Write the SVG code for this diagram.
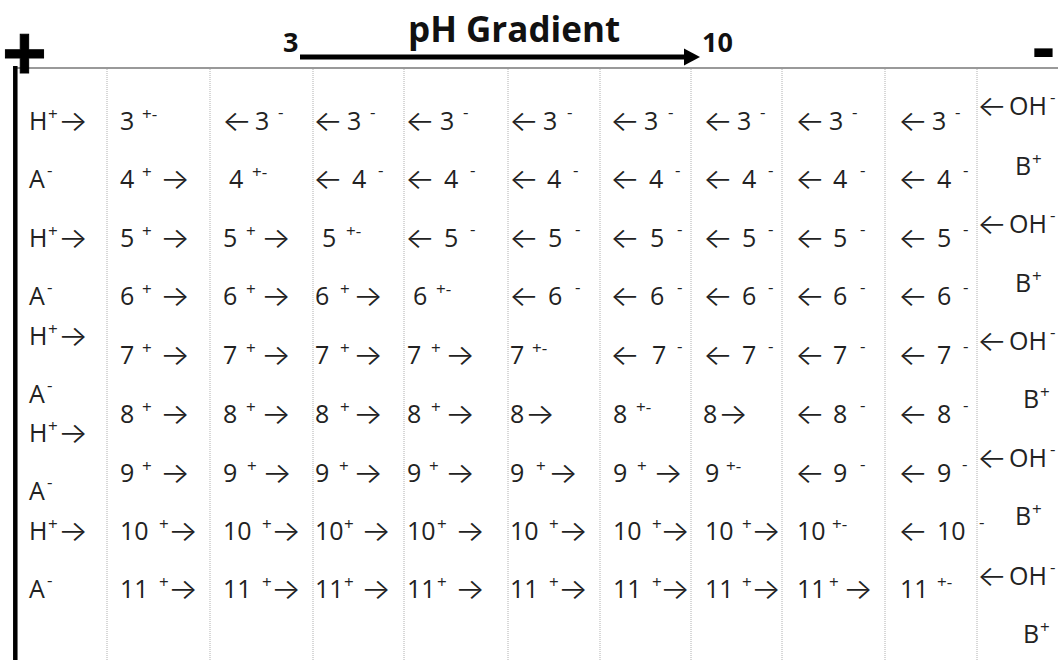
<svg xmlns="http://www.w3.org/2000/svg" width="1058" height="660" viewBox="0 0 1058 660">
<style>
.t{font-family:"Open Sans","Liberation Sans",sans-serif;font-size:25px;fill:#222}
.s{font-size:17px}
.a{font-family:Inter,"DejaVu Sans",sans-serif;font-size:29px;font-weight:300;baseline-shift:-1px}
.hd{font-family:"Open Sans","Liberation Sans",sans-serif;font-weight:bold;fill:#111}
.grid line{stroke:#b0b0b0;stroke-width:1;stroke-dasharray:1 1}
</style>
<rect width="1058" height="660" fill="#fff"/>
<g id="frame">
<line x1="13" y1="68" x2="1058" y2="68" stroke="#777" stroke-width="1.5"/>
<line x1="15.3" y1="66" x2="15.3" y2="660" stroke="#000" stroke-width="4.5"/>
<g class="grid">
<line x1="107" y1="69" x2="107" y2="660"/><line x1="210" y1="69" x2="210" y2="660"/><line x1="313" y1="69" x2="313" y2="660"/><line x1="404" y1="69" x2="404" y2="660"/><line x1="508" y1="69" x2="508" y2="660"/><line x1="600" y1="69" x2="600" y2="660"/><line x1="691" y1="69" x2="691" y2="660"/><line x1="782" y1="69" x2="782" y2="660"/><line x1="885" y1="69" x2="885" y2="660"/><line x1="977" y1="69" x2="977" y2="660"/>
</g>
</g>
<g id="anode"><text x="24.5" y="79" font-family="Liberation Sans" font-size="76" text-anchor="middle" font-weight="bold" fill="#000" stroke="#000" stroke-width="1">+</text></g>
<g id="cathode"><text x="1043.5" y="71" font-family="Liberation Sans" font-size="72" text-anchor="middle" font-weight="bold" fill="#000">-</text></g>
<g id="title"><text class="hd" x="408" y="42" font-size="35">pH Gradient</text></g>
<g id="ph-start"><text class="hd" x="283" y="52" font-size="27">3</text></g>
<g id="ph-end"><text class="hd" x="702" y="52" font-size="27">10</text></g>
<g id="connectors">
<line x1="300" y1="57" x2="688" y2="57" stroke="#000" stroke-width="5"/>
<polygon points="684,48.5 700,57 684,65.5" fill="#000"/>
</g>
<g id="left-col">
<text class="t" y="130"><tspan x="29">H</tspan><tspan class="s" x="48" y="120">+</tspan><tspan class="a" x="58" y="130" textLength="30" lengthAdjust="spacingAndGlyphs">→</tspan></text>
<text class="t" y="188"><tspan x="29">A</tspan><tspan class="s" x="47" y="176">-</tspan></text>
<text class="t" y="247"><tspan x="29">H</tspan><tspan class="s" x="48" y="237">+</tspan><tspan class="a" x="58" y="247" textLength="30" lengthAdjust="spacingAndGlyphs">→</tspan></text>
<text class="t" y="305"><tspan x="29">A</tspan><tspan class="s" x="47" y="293">-</tspan></text>
<text class="t" y="345"><tspan x="29">H</tspan><tspan class="s" x="48" y="335">+</tspan><tspan class="a" x="58" y="345" textLength="30" lengthAdjust="spacingAndGlyphs">→</tspan></text>
<text class="t" y="403"><tspan x="29">A</tspan><tspan class="s" x="47" y="391">-</tspan></text>
<text class="t" y="442"><tspan x="29">H</tspan><tspan class="s" x="48" y="432">+</tspan><tspan class="a" x="58" y="442" textLength="30" lengthAdjust="spacingAndGlyphs">→</tspan></text>
<text class="t" y="500"><tspan x="29">A</tspan><tspan class="s" x="47" y="488">-</tspan></text>
<text class="t" y="540"><tspan x="29">H</tspan><tspan class="s" x="48" y="530">+</tspan><tspan class="a" x="58" y="540" textLength="30" lengthAdjust="spacingAndGlyphs">→</tspan></text>
<text class="t" y="598"><tspan x="29">A</tspan><tspan class="s" x="47" y="586">-</tspan></text>
</g>
<g id="right-col">
<text class="t" y="115"><tspan class="a" x="977" textLength="30" lengthAdjust="spacingAndGlyphs">←</tspan><tspan x="1009">OH</tspan><tspan class="s" x="1050" y="103">-</tspan></text>
<text class="t" y="175"><tspan x="1015">B</tspan><tspan class="s" x="1032" y="165">+</tspan></text>
<text class="t" y="233"><tspan class="a" x="977" textLength="30" lengthAdjust="spacingAndGlyphs">←</tspan><tspan x="1009">OH</tspan><tspan class="s" x="1050" y="221">-</tspan></text>
<text class="t" y="292"><tspan x="1015">B</tspan><tspan class="s" x="1032" y="282">+</tspan></text>
<text class="t" y="350"><tspan class="a" x="977" textLength="30" lengthAdjust="spacingAndGlyphs">←</tspan><tspan x="1009">OH</tspan><tspan class="s" x="1050" y="338">-</tspan></text>
<text class="t" y="408"><tspan x="1023">B</tspan><tspan class="s" x="1040" y="398">+</tspan></text>
<text class="t" y="467"><tspan class="a" x="977" textLength="30" lengthAdjust="spacingAndGlyphs">←</tspan><tspan x="1009">OH</tspan><tspan class="s" x="1050" y="455">-</tspan></text>
<text class="t" y="525"><tspan x="1015">B</tspan><tspan class="s" x="1032" y="515">+</tspan></text>
<text class="t" y="585"><tspan class="a" x="977" textLength="30" lengthAdjust="spacingAndGlyphs">←</tspan><tspan x="1009">OH</tspan><tspan class="s" x="1050" y="573">-</tspan></text>
<text class="t" y="643"><tspan x="1023">B</tspan><tspan class="s" x="1040" y="633">+</tspan></text>
</g>
<g id="row-3">
<text class="t" y="130"><tspan x="120">3</tspan><tspan class="s" x="142" y="120">+-</tspan></text>
<text class="t" y="130"><tspan class="a" x="222" textLength="30" lengthAdjust="spacingAndGlyphs">←</tspan><tspan x="255">3</tspan><tspan class="s" x="278" y="118">-</tspan></text>
<text class="t" y="130"><tspan class="a" x="313" textLength="30" lengthAdjust="spacingAndGlyphs">←</tspan><tspan x="347">3</tspan><tspan class="s" x="370" y="118">-</tspan></text>
<text class="t" y="130"><tspan class="a" x="405" textLength="30" lengthAdjust="spacingAndGlyphs">←</tspan><tspan x="440">3</tspan><tspan class="s" x="463" y="118">-</tspan></text>
<text class="t" y="130"><tspan class="a" x="509" textLength="30" lengthAdjust="spacingAndGlyphs">←</tspan><tspan x="543">3</tspan><tspan class="s" x="567" y="118">-</tspan></text>
<text class="t" y="130"><tspan class="a" x="610" textLength="30" lengthAdjust="spacingAndGlyphs">←</tspan><tspan x="644">3</tspan><tspan class="s" x="668" y="118">-</tspan></text>
<text class="t" y="130"><tspan class="a" x="703" textLength="30" lengthAdjust="spacingAndGlyphs">←</tspan><tspan x="737">3</tspan><tspan class="s" x="760" y="118">-</tspan></text>
<text class="t" y="130"><tspan class="a" x="795" textLength="30" lengthAdjust="spacingAndGlyphs">←</tspan><tspan x="829">3</tspan><tspan class="s" x="852" y="118">-</tspan></text>
<text class="t" y="130"><tspan class="a" x="898" textLength="30" lengthAdjust="spacingAndGlyphs">←</tspan><tspan x="932">3</tspan><tspan class="s" x="955" y="118">-</tspan></text>
</g>
<g id="row-4">
<text class="t" y="188"><tspan x="120">4</tspan><tspan class="s" x="142" y="178">+</tspan><tspan class="a" x="160" y="188" textLength="30" lengthAdjust="spacingAndGlyphs">→</tspan></text>
<text class="t" y="188"><tspan x="229">4</tspan><tspan class="s" x="252" y="178">+-</tspan></text>
<text class="t" y="188"><tspan class="a" x="313" textLength="30" lengthAdjust="spacingAndGlyphs">←</tspan><tspan x="352">4</tspan><tspan class="s" x="378" y="176">-</tspan></text>
<text class="t" y="188"><tspan class="a" x="405" textLength="30" lengthAdjust="spacingAndGlyphs">←</tspan><tspan x="444">4</tspan><tspan class="s" x="470" y="176">-</tspan></text>
<text class="t" y="188"><tspan class="a" x="509" textLength="30" lengthAdjust="spacingAndGlyphs">←</tspan><tspan x="547">4</tspan><tspan class="s" x="573" y="176">-</tspan></text>
<text class="t" y="188"><tspan class="a" x="610" textLength="30" lengthAdjust="spacingAndGlyphs">←</tspan><tspan x="649">4</tspan><tspan class="s" x="675" y="176">-</tspan></text>
<text class="t" y="188"><tspan class="a" x="703" textLength="30" lengthAdjust="spacingAndGlyphs">←</tspan><tspan x="742">4</tspan><tspan class="s" x="768" y="176">-</tspan></text>
<text class="t" y="188"><tspan class="a" x="795" textLength="30" lengthAdjust="spacingAndGlyphs">←</tspan><tspan x="833">4</tspan><tspan class="s" x="860" y="176">-</tspan></text>
<text class="t" y="188"><tspan class="a" x="898" textLength="30" lengthAdjust="spacingAndGlyphs">←</tspan><tspan x="937">4</tspan><tspan class="s" x="963" y="176">-</tspan></text>
</g>
<g id="row-5">
<text class="t" y="247"><tspan x="120">5</tspan><tspan class="s" x="142" y="237">+</tspan><tspan class="a" x="160" y="247" textLength="30" lengthAdjust="spacingAndGlyphs">→</tspan></text>
<text class="t" y="247"><tspan x="223">5</tspan><tspan class="s" x="246" y="237">+</tspan><tspan class="a" x="261" y="247" textLength="30" lengthAdjust="spacingAndGlyphs">→</tspan></text>
<text class="t" y="247"><tspan x="322">5</tspan><tspan class="s" x="346" y="237">+-</tspan></text>
<text class="t" y="247"><tspan class="a" x="405" textLength="30" lengthAdjust="spacingAndGlyphs">←</tspan><tspan x="444">5</tspan><tspan class="s" x="470" y="235">-</tspan></text>
<text class="t" y="247"><tspan class="a" x="509" textLength="30" lengthAdjust="spacingAndGlyphs">←</tspan><tspan x="548">5</tspan><tspan class="s" x="575" y="235">-</tspan></text>
<text class="t" y="247"><tspan class="a" x="610" textLength="30" lengthAdjust="spacingAndGlyphs">←</tspan><tspan x="650">5</tspan><tspan class="s" x="677" y="235">-</tspan></text>
<text class="t" y="247"><tspan class="a" x="703" textLength="30" lengthAdjust="spacingAndGlyphs">←</tspan><tspan x="742">5</tspan><tspan class="s" x="768" y="235">-</tspan></text>
<text class="t" y="247"><tspan class="a" x="795" textLength="30" lengthAdjust="spacingAndGlyphs">←</tspan><tspan x="833">5</tspan><tspan class="s" x="860" y="235">-</tspan></text>
<text class="t" y="247"><tspan class="a" x="898" textLength="30" lengthAdjust="spacingAndGlyphs">←</tspan><tspan x="937">5</tspan><tspan class="s" x="963" y="235">-</tspan></text>
</g>
<g id="row-6">
<text class="t" y="305"><tspan x="120">6</tspan><tspan class="s" x="142" y="295">+</tspan><tspan class="a" x="160" y="305" textLength="30" lengthAdjust="spacingAndGlyphs">→</tspan></text>
<text class="t" y="305"><tspan x="223">6</tspan><tspan class="s" x="246" y="295">+</tspan><tspan class="a" x="261" y="305" textLength="30" lengthAdjust="spacingAndGlyphs">→</tspan></text>
<text class="t" y="305"><tspan x="315">6</tspan><tspan class="s" x="340" y="295">+</tspan><tspan class="a" x="353" y="305" textLength="30" lengthAdjust="spacingAndGlyphs">→</tspan></text>
<text class="t" y="305"><tspan x="413">6</tspan><tspan class="s" x="436" y="295">+-</tspan></text>
<text class="t" y="305"><tspan class="a" x="509" textLength="30" lengthAdjust="spacingAndGlyphs">←</tspan><tspan x="548">6</tspan><tspan class="s" x="575" y="293">-</tspan></text>
<text class="t" y="305"><tspan class="a" x="610" textLength="30" lengthAdjust="spacingAndGlyphs">←</tspan><tspan x="650">6</tspan><tspan class="s" x="677" y="293">-</tspan></text>
<text class="t" y="305"><tspan class="a" x="703" textLength="30" lengthAdjust="spacingAndGlyphs">←</tspan><tspan x="742">6</tspan><tspan class="s" x="768" y="293">-</tspan></text>
<text class="t" y="305"><tspan class="a" x="795" textLength="30" lengthAdjust="spacingAndGlyphs">←</tspan><tspan x="833">6</tspan><tspan class="s" x="860" y="293">-</tspan></text>
<text class="t" y="305"><tspan class="a" x="898" textLength="30" lengthAdjust="spacingAndGlyphs">←</tspan><tspan x="937">6</tspan><tspan class="s" x="963" y="293">-</tspan></text>
</g>
<g id="row-7">
<text class="t" y="364"><tspan x="120">7</tspan><tspan class="s" x="142" y="354">+</tspan><tspan class="a" x="160" y="364" textLength="30" lengthAdjust="spacingAndGlyphs">→</tspan></text>
<text class="t" y="364"><tspan x="223">7</tspan><tspan class="s" x="246" y="354">+</tspan><tspan class="a" x="261" y="364" textLength="30" lengthAdjust="spacingAndGlyphs">→</tspan></text>
<text class="t" y="364"><tspan x="315">7</tspan><tspan class="s" x="340" y="354">+</tspan><tspan class="a" x="353" y="364" textLength="30" lengthAdjust="spacingAndGlyphs">→</tspan></text>
<text class="t" y="364"><tspan x="407">7</tspan><tspan class="s" x="431" y="354">+</tspan><tspan class="a" x="445" y="364" textLength="30" lengthAdjust="spacingAndGlyphs">→</tspan></text>
<text class="t" y="364"><tspan x="510">7</tspan><tspan class="s" x="532" y="354">+-</tspan></text>
<text class="t" y="364"><tspan class="a" x="610" textLength="30" lengthAdjust="spacingAndGlyphs">←</tspan><tspan x="652">7</tspan><tspan class="s" x="677" y="352">-</tspan></text>
<text class="t" y="364"><tspan class="a" x="703" textLength="30" lengthAdjust="spacingAndGlyphs">←</tspan><tspan x="742">7</tspan><tspan class="s" x="768" y="352">-</tspan></text>
<text class="t" y="364"><tspan class="a" x="795" textLength="30" lengthAdjust="spacingAndGlyphs">←</tspan><tspan x="833">7</tspan><tspan class="s" x="860" y="352">-</tspan></text>
<text class="t" y="364"><tspan class="a" x="898" textLength="30" lengthAdjust="spacingAndGlyphs">←</tspan><tspan x="937">7</tspan><tspan class="s" x="963" y="352">-</tspan></text>
</g>
<g id="row-8">
<text class="t" y="423"><tspan x="120">8</tspan><tspan class="s" x="142" y="413">+</tspan><tspan class="a" x="160" y="423" textLength="30" lengthAdjust="spacingAndGlyphs">→</tspan></text>
<text class="t" y="423"><tspan x="223">8</tspan><tspan class="s" x="246" y="413">+</tspan><tspan class="a" x="261" y="423" textLength="30" lengthAdjust="spacingAndGlyphs">→</tspan></text>
<text class="t" y="423"><tspan x="315">8</tspan><tspan class="s" x="340" y="413">+</tspan><tspan class="a" x="353" y="423" textLength="30" lengthAdjust="spacingAndGlyphs">→</tspan></text>
<text class="t" y="423"><tspan x="407">8</tspan><tspan class="s" x="431" y="413">+</tspan><tspan class="a" x="445" y="423" textLength="30" lengthAdjust="spacingAndGlyphs">→</tspan></text>
<text class="t" y="423"><tspan x="510">8</tspan><tspan class="a" x="525" y="423" textLength="30" lengthAdjust="spacingAndGlyphs">→</tspan></text>
<text class="t" y="423"><tspan x="613">8</tspan><tspan class="s" x="636" y="413">+-</tspan></text>
<text class="t" y="423"><tspan x="703">8</tspan><tspan class="a" x="718" y="423" textLength="30" lengthAdjust="spacingAndGlyphs">→</tspan></text>
<text class="t" y="423"><tspan class="a" x="795" textLength="30" lengthAdjust="spacingAndGlyphs">←</tspan><tspan x="833">8</tspan><tspan class="s" x="860" y="411">-</tspan></text>
<text class="t" y="423"><tspan class="a" x="898" textLength="30" lengthAdjust="spacingAndGlyphs">←</tspan><tspan x="937">8</tspan><tspan class="s" x="963" y="411">-</tspan></text>
</g>
<g id="row-9">
<text class="t" y="482"><tspan x="120">9</tspan><tspan class="s" x="142" y="472">+</tspan><tspan class="a" x="160" y="482" textLength="30" lengthAdjust="spacingAndGlyphs">→</tspan></text>
<text class="t" y="482"><tspan x="223">9</tspan><tspan class="s" x="247" y="472">+</tspan><tspan class="a" x="262" y="482" textLength="30" lengthAdjust="spacingAndGlyphs">→</tspan></text>
<text class="t" y="482"><tspan x="315">9</tspan><tspan class="s" x="339" y="472">+</tspan><tspan class="a" x="353" y="482" textLength="30" lengthAdjust="spacingAndGlyphs">→</tspan></text>
<text class="t" y="482"><tspan x="407">9</tspan><tspan class="s" x="429" y="472">+</tspan><tspan class="a" x="445" y="482" textLength="30" lengthAdjust="spacingAndGlyphs">→</tspan></text>
<text class="t" y="482"><tspan x="510">9</tspan><tspan class="s" x="536" y="472">+</tspan><tspan class="a" x="548" y="482" textLength="30" lengthAdjust="spacingAndGlyphs">→</tspan></text>
<text class="t" y="482"><tspan x="613">9</tspan><tspan class="s" x="637" y="472">+</tspan><tspan class="a" x="653" y="482" textLength="30" lengthAdjust="spacingAndGlyphs">→</tspan></text>
<text class="t" y="482"><tspan x="705">9</tspan><tspan class="s" x="726" y="472">+-</tspan></text>
<text class="t" y="482"><tspan class="a" x="795" textLength="30" lengthAdjust="spacingAndGlyphs">←</tspan><tspan x="833">9</tspan><tspan class="s" x="860" y="470">-</tspan></text>
<text class="t" y="482"><tspan class="a" x="898" textLength="30" lengthAdjust="spacingAndGlyphs">←</tspan><tspan x="937">9</tspan><tspan class="s" x="962" y="470">-</tspan></text>
</g>
<g id="row-10">
<text class="t" y="540"><tspan x="120">10</tspan><tspan class="s" x="159" y="530">+</tspan><tspan class="a" x="168" y="540" textLength="30" lengthAdjust="spacingAndGlyphs">→</tspan></text>
<text class="t" y="540"><tspan x="223">10</tspan><tspan class="s" x="262" y="530">+</tspan><tspan class="a" x="271" y="540" textLength="30" lengthAdjust="spacingAndGlyphs">→</tspan></text>
<text class="t" y="540"><tspan x="315">10</tspan><tspan class="s" x="344" y="530">+</tspan><tspan class="a" x="361" y="540" textLength="30" lengthAdjust="spacingAndGlyphs">→</tspan></text>
<text class="t" y="540"><tspan x="407">10</tspan><tspan class="s" x="437" y="530">+</tspan><tspan class="a" x="455" y="540" textLength="30" lengthAdjust="spacingAndGlyphs">→</tspan></text>
<text class="t" y="540"><tspan x="510">10</tspan><tspan class="s" x="549" y="530">+</tspan><tspan class="a" x="558" y="540" textLength="30" lengthAdjust="spacingAndGlyphs">→</tspan></text>
<text class="t" y="540"><tspan x="613">10</tspan><tspan class="s" x="652" y="530">+</tspan><tspan class="a" x="660" y="540" textLength="30" lengthAdjust="spacingAndGlyphs">→</tspan></text>
<text class="t" y="540"><tspan x="705">10</tspan><tspan class="s" x="742" y="530">+</tspan><tspan class="a" x="751" y="540" textLength="30" lengthAdjust="spacingAndGlyphs">→</tspan></text>
<text class="t" y="540"><tspan x="797">10</tspan><tspan class="s" x="832" y="530">+-</tspan></text>
<text class="t" y="540"><tspan class="a" x="898" textLength="30" lengthAdjust="spacingAndGlyphs">←</tspan><tspan x="937">10</tspan><tspan class="s" x="979" y="528">-</tspan></text>
</g>
<g id="row-11">
<text class="t" y="598"><tspan x="120">11</tspan><tspan class="s" x="159" y="588">+</tspan><tspan class="a" x="168" y="598" textLength="30" lengthAdjust="spacingAndGlyphs">→</tspan></text>
<text class="t" y="598"><tspan x="223">11</tspan><tspan class="s" x="262" y="588">+</tspan><tspan class="a" x="271" y="598" textLength="30" lengthAdjust="spacingAndGlyphs">→</tspan></text>
<text class="t" y="598"><tspan x="315">11</tspan><tspan class="s" x="344" y="588">+</tspan><tspan class="a" x="361" y="598" textLength="30" lengthAdjust="spacingAndGlyphs">→</tspan></text>
<text class="t" y="598"><tspan x="407">11</tspan><tspan class="s" x="437" y="588">+</tspan><tspan class="a" x="455" y="598" textLength="30" lengthAdjust="spacingAndGlyphs">→</tspan></text>
<text class="t" y="598"><tspan x="510">11</tspan><tspan class="s" x="549" y="588">+</tspan><tspan class="a" x="558" y="598" textLength="30" lengthAdjust="spacingAndGlyphs">→</tspan></text>
<text class="t" y="598"><tspan x="613">11</tspan><tspan class="s" x="652" y="588">+</tspan><tspan class="a" x="660" y="598" textLength="30" lengthAdjust="spacingAndGlyphs">→</tspan></text>
<text class="t" y="598"><tspan x="705">11</tspan><tspan class="s" x="742" y="588">+</tspan><tspan class="a" x="751" y="598" textLength="30" lengthAdjust="spacingAndGlyphs">→</tspan></text>
<text class="t" y="598"><tspan x="797">11</tspan><tspan class="s" x="829" y="588">+</tspan><tspan class="a" x="843" y="598" textLength="30" lengthAdjust="spacingAndGlyphs">→</tspan></text>
<text class="t" y="598"><tspan x="900">11</tspan><tspan class="s" x="937" y="588">+-</tspan></text>
</g>
</svg>
